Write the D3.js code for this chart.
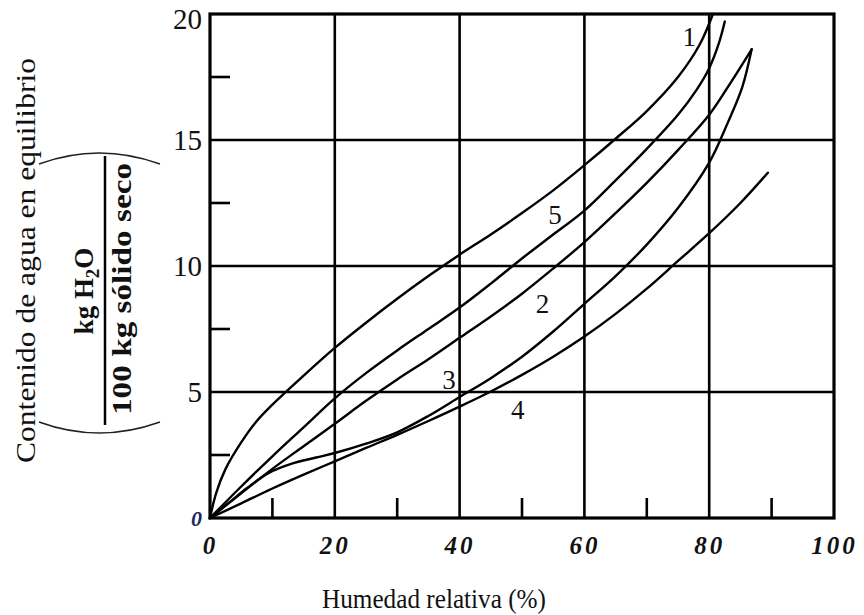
<!DOCTYPE html>
<html><head><meta charset="utf-8">
<script src="https://cdn.jsdelivr.net/npm/d3@7"></script>
<style>
html,body{margin:0;padding:0;background:#fff;}
svg{display:block;}
</style></head>
<body>
<svg id="chart" width="864" height="615"></svg>
<script>
// ---- data (x: humedad relativa %, y: kg H2O / 100 kg sólido seco) ----
const curve1 = [[0,0],[1,1.0],[2.5,1.95],[5,3.0],[7.5,3.85],[10,4.5],[15,5.65],[20,6.75],[25,7.75],[30,8.7],[35,9.6],[40,10.45],[45,11.25],[50,12.1],[55,13.0],[60,14.0],[65,15.05],[70,16.15],[75,17.5],[78.5,18.8],[80.6,20]];
const curve5 = [[0,0],[5,1.25],[10,2.45],[15,3.6],[20,4.75],[25,5.75],[30,6.65],[35,7.5],[40,8.35],[45,9.3],[50,10.3],[55,11.25],[60,12.2],[65,13.4],[70,14.65],[75,16.0],[78,17.0],[80,17.85],[81.5,18.8],[82.5,19.7]];
const curve2 = [[0,0],[5,0.98],[10,1.95],[15,2.85],[20,3.74],[25,4.65],[30,5.5],[35,6.3],[40,7.15],[45,8.0],[50,8.9],[55,9.9],[60,10.95],[65,12.1],[70,13.3],[75,14.6],[80,16.0],[83.5,17.3],[86.8,18.6]];
const curve3 = [[0,0],[3,0.6],[6,1.2],[9.5,1.8],[13,2.15],[17,2.4],[20,2.58],[25,2.95],[30,3.4],[35,4.05],[40,4.8],[45,5.55],[50,6.4],[55,7.4],[60,8.5],[65,9.6],[70,10.85],[75,12.3],[80,14.1],[83,15.7],[85.3,17.1],[86.8,18.6]];
const curve4 = [[0,0],[5,0.58],[10,1.17],[15,1.72],[20,2.25],[25,2.78],[30,3.3],[35,3.85],[40,4.42],[45,5.02],[50,5.68],[55,6.4],[60,7.2],[65,8.1],[70,9.1],[75,10.2],[80,11.3],[85,12.5],[89.4,13.7]];
const seriesNames = ["1","5","2","3","4"];
const xMajorTicks = [0,20,40,60,80,100];
const xMinorTicks = [10,30,50,70,90];
const yMajorTicks = [0,5,10,15,20];
const yMinorTicks = [2.5,7.5,12.5,17.5];
const xTickLabels = ["0","20","40","60","80","100"];
const yTickLabels = ["0","5","10","15","20"];
// curve label anchors (data coordinates)
const labelPos = [[76.8,19.1],[55.3,12.05],[53.3,8.5],[38.3,5.5],[49.3,4.3]];
const xTitle = "Humedad relativa (%)";
const yTitle = "Contenido de agua en equilibrio";
const fracTop = "kg H";
const fracBottom = "100 kg sólido seco";

const svg = d3.select("#chart");
const W = 864, H = 615;
const m = {left:210, right:834, top:14, bottom:518};
const x = d3.scaleLinear().domain([0,100]).range([m.left, m.right]);
const y = d3.scaleLinear().domain([0,20]).range([m.bottom, m.top]);
const serif = "'Liberation Serif','Times New Roman',serif";

svg.append("rect").attr("width",W).attr("height",H).attr("fill","#fff");

// gridlines (major)
const g = svg.append("g");
g.selectAll("line.vx").data(xMajorTicks.slice(1,-1)).join("line")
  .attr("x1",d=>x(d)).attr("x2",d=>x(d)).attr("y1",y(0)).attr("y2",y(20))
  .attr("stroke","#000").attr("stroke-width",2.6);
g.selectAll("line.hy").data(yMajorTicks.slice(1,-1)).join("line")
  .attr("y1",d=>y(d)).attr("y2",d=>y(d)).attr("x1",x(0)).attr("x2",x(100))
  .attr("stroke","#000").attr("stroke-width",2.6);

// minor ticks
g.selectAll("line.mx").data(xMinorTicks).join("line")
  .attr("x1",d=>x(d)).attr("x2",d=>x(d)).attr("y1",y(0)).attr("y2",y(0)-20)
  .attr("stroke","#000").attr("stroke-width",2.6);
g.selectAll("line.my").data(yMinorTicks).join("line")
  .attr("y1",d=>y(d)).attr("y2",d=>y(d)).attr("x1",x(0)).attr("x2",x(0)+20)
  .attr("stroke","#000").attr("stroke-width",2.6);

// curves
const line = d3.line().x(d=>x(d[0])).y(d=>y(d[1])).curve(d3.curveCatmullRom.alpha(0.5));
const allCurves = [curve1,curve5,curve2,curve3,curve4];
svg.append("g").selectAll("path").data(allCurves).join("path")
  .attr("d",line).attr("fill","none").attr("stroke","#000")
  .attr("stroke-width",2.4).attr("stroke-linejoin","round").attr("stroke-linecap","round");

// frame
svg.append("rect").attr("x",x(0)).attr("y",y(20)).attr("width",x(100)-x(0)).attr("height",y(0)-y(20))
  .attr("fill","none").attr("stroke","#000").attr("stroke-width",3.2);

// axes (text only via d3 axis)
const xAxis = d3.axisBottom(x).tickValues(xMajorTicks).tickFormat((d,i)=>xTickLabels[i]).tickSize(0).tickPadding(18);
const xa = svg.append("g").attr("transform",`translate(0,${y(0)})`).call(xAxis);
xa.select(".domain").remove();
xa.selectAll("text").attr("font-family",serif).attr("font-size",25).attr("font-weight","bold")
  .attr("font-style","italic").attr("letter-spacing",3).attr("fill","#111");

const yAxis = d3.axisLeft(y).tickValues(yMajorTicks).tickFormat((d,i)=>yTickLabels[i]).tickSize(0).tickPadding(8);
const ya = svg.append("g").attr("transform",`translate(${x(0)},0)`).call(yAxis);
ya.select(".domain").remove();
ya.selectAll("text").attr("font-family",serif).attr("font-size",29).attr("fill","#111");
ya.selectAll(".tick").filter(d=>d===0).select("text")
  .attr("font-style","italic").attr("font-weight","bold").attr("font-size",22).attr("fill","#1b2a5e");
ya.selectAll(".tick").filter(d=>d===20).select("text").attr("dy","0.5em");

// curve labels
svg.append("g").selectAll("text").data(labelPos).join("text")
  .attr("x",d=>x(d[0])).attr("y",d=>y(d[1])).attr("text-anchor","middle").attr("dy","0.35em")
  .attr("font-family",serif).attr("font-size",27).attr("fill","#111")
  .text((d,i)=>seriesNames[i]);

// x title
svg.append("text").attr("x",434).attr("y",608).attr("text-anchor","middle")
  .attr("font-family",serif).attr("font-size",27).attr("fill","#111")
  .attr("textLength",224).attr("lengthAdjust","spacingAndGlyphs").text(xTitle);

// y title
svg.append("text").attr("transform","translate(35,260.5) rotate(-90)").attr("text-anchor","middle")
  .attr("font-family",serif).attr("font-size",27).attr("fill","#111")
  .attr("textLength",405).attr("lengthAdjust","spacingAndGlyphs").text(yTitle);

// fraction
const ft = svg.append("text").attr("transform","translate(93,291) rotate(-90)").attr("text-anchor","middle")
  .attr("font-family",serif).attr("font-size",27).attr("font-weight","bold").attr("fill","#111");
ft.append("tspan").text(fracTop);
ft.append("tspan").attr("font-size",19).attr("dy",6).text("2");
ft.append("tspan").attr("dy",-6).text("O");
svg.append("text").attr("transform","translate(131,289) rotate(-90)").attr("text-anchor","middle")
  .attr("font-family",serif).attr("font-size",28).attr("font-weight","bold").attr("fill","#111")
  .attr("textLength",252).attr("lengthAdjust","spacingAndGlyphs").text(fracBottom);
svg.append("line").attr("x1",105).attr("x2",105).attr("y1",156).attr("y2",425)
  .attr("stroke","#000").attr("stroke-width",2.5);
// parentheses (rotated)
svg.append("path").attr("d","M39,164 Q99,142 160,164").attr("fill","none").attr("stroke","#222").attr("stroke-width",1.6);
svg.append("path").attr("d","M39,422 Q99,444 160,422").attr("fill","none").attr("stroke","#222").attr("stroke-width",1.6);
</script>
</body></html>
